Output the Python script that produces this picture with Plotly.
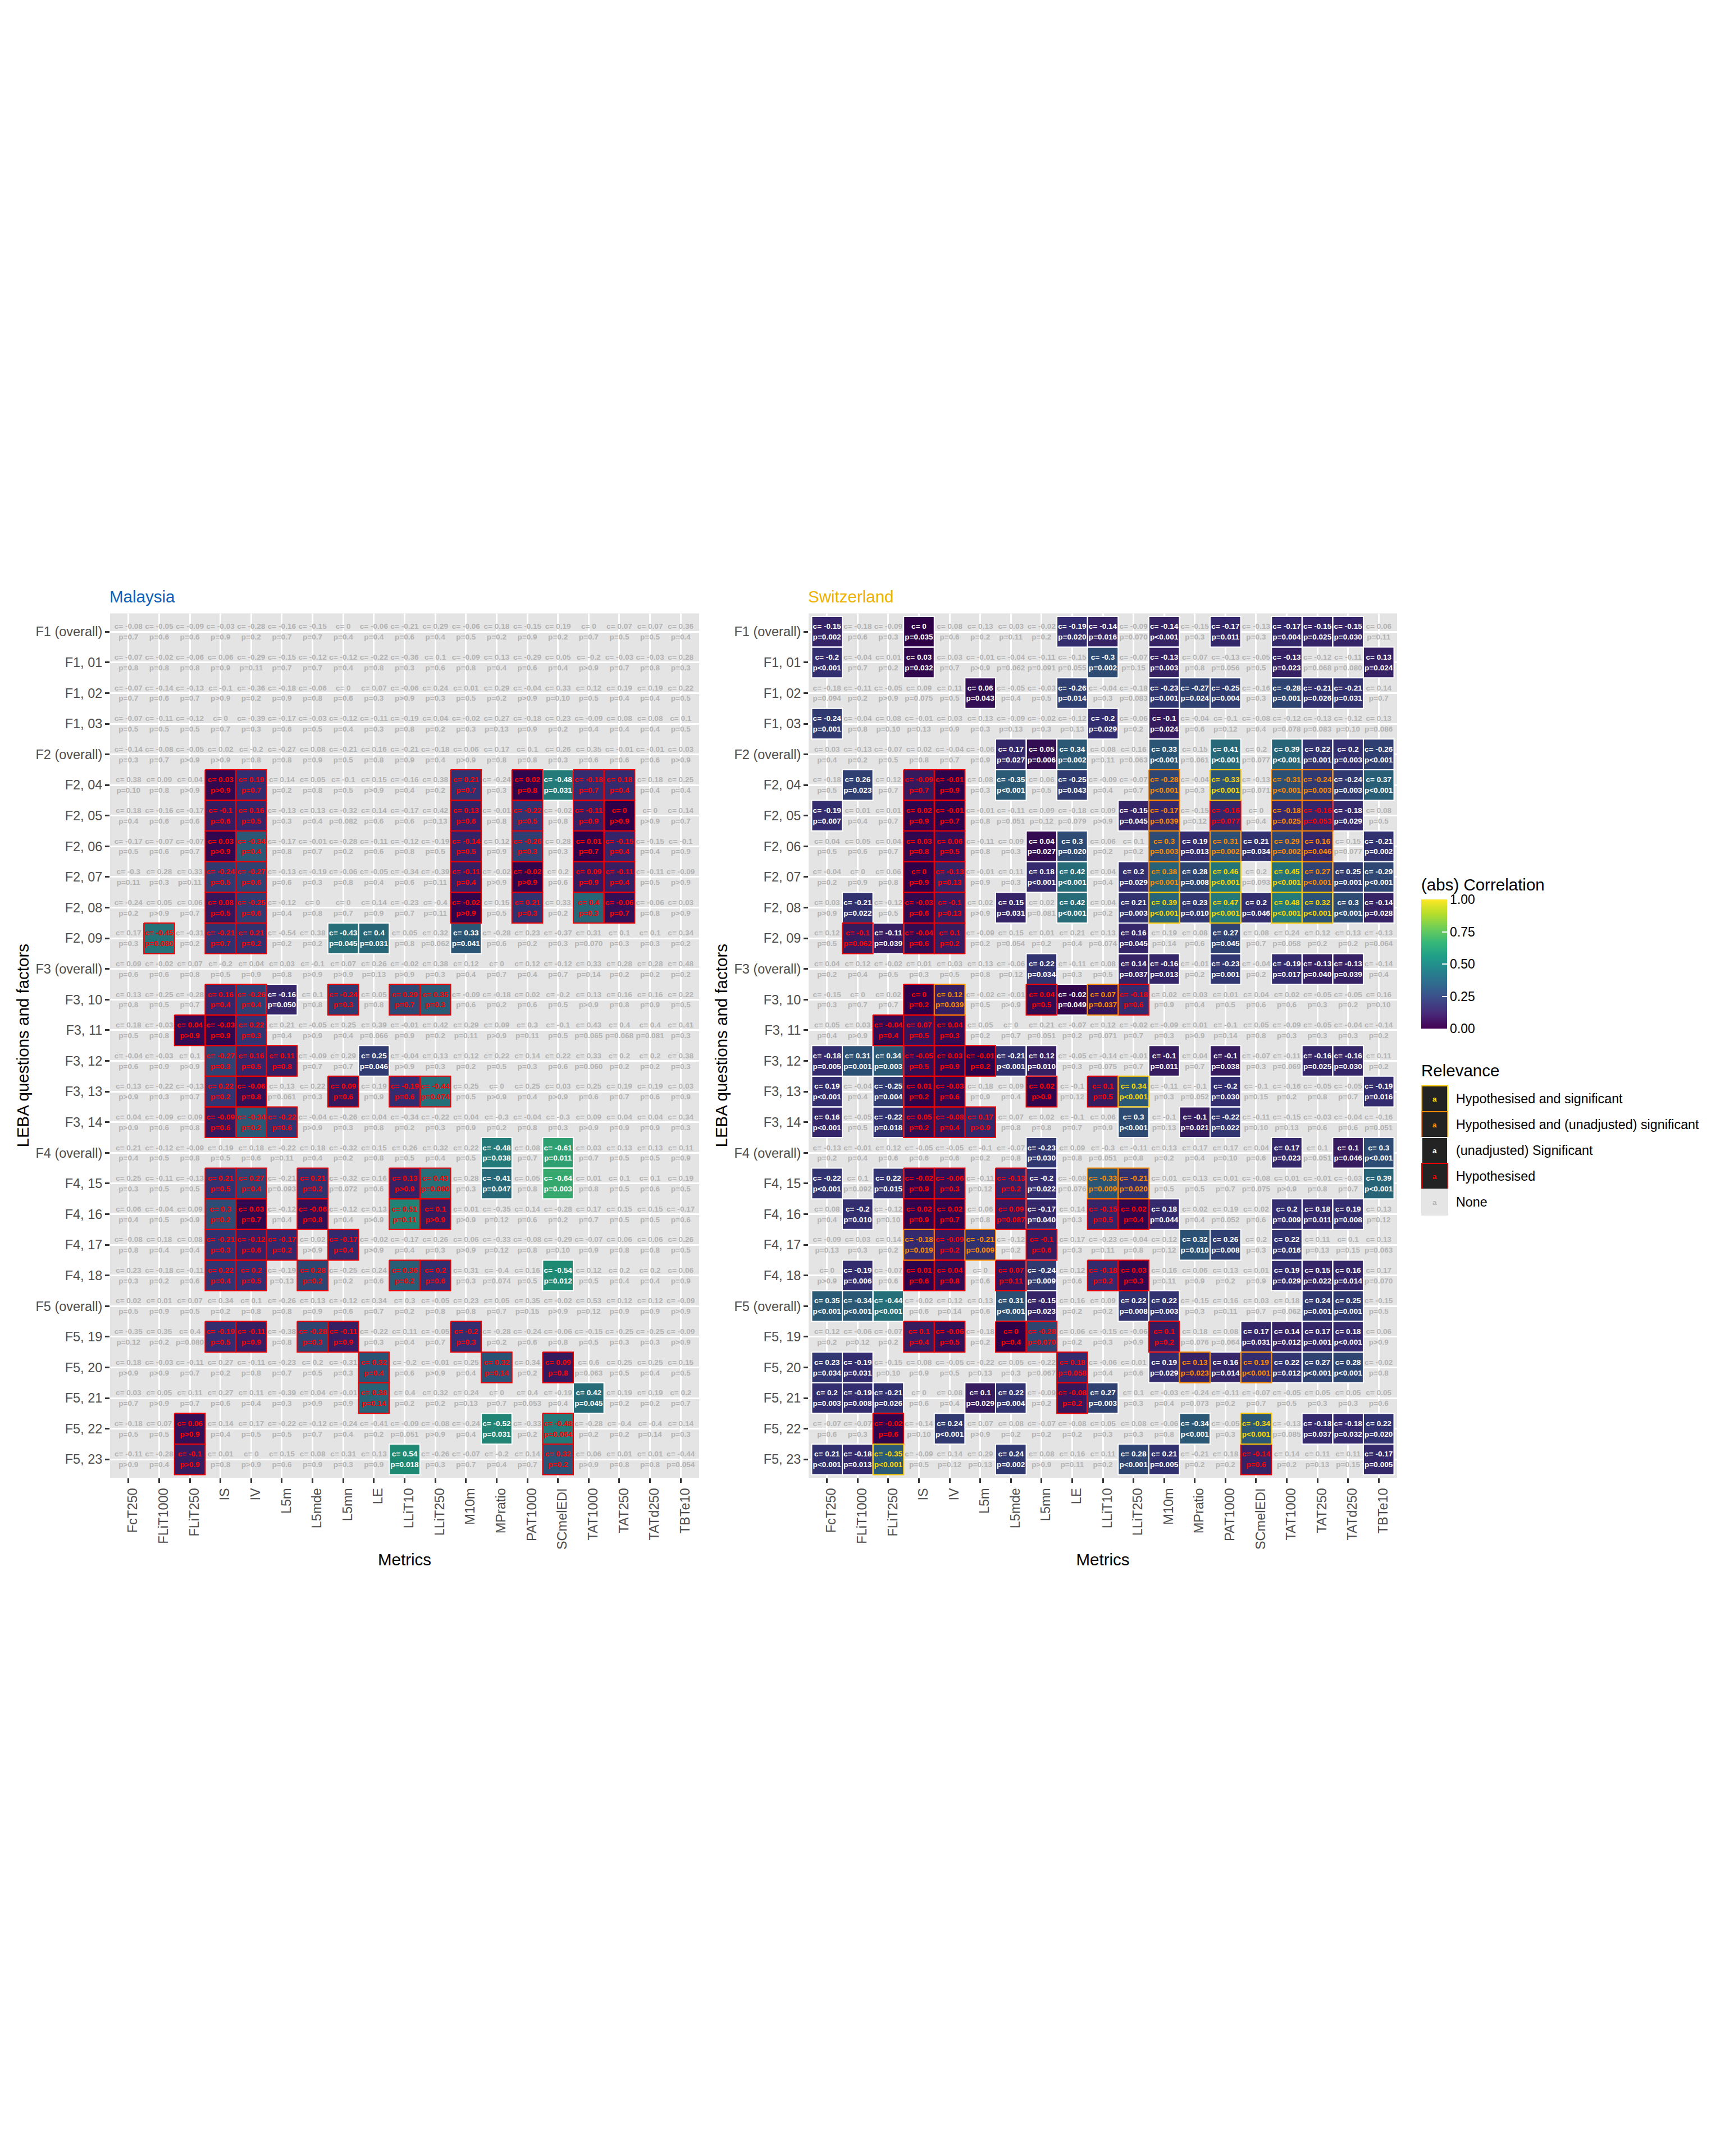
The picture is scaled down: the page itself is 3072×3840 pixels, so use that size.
import numpy as np
import plotly.graph_objects as go

METRICS = ["FcT250","FLiT1000","FLiT250","IS","IV","L5m","L5mde","L5mn","LE","LLiT10","LLiT250","M10m","MPratio","PAT1000","SCmelEDI","TAT1000","TAT250","TATd250","TBTe10"]
QUESTIONS = ["F1 (overall)","F1, 01","F1, 02","F1, 03","F2 (overall)","F2, 04","F2, 05","F2, 06","F2, 07","F2, 08","F2, 09","F3 (overall)","F3, 10","F3, 11","F3, 12","F3, 13","F3, 14","F4 (overall)","F4, 15","F4, 16","F4, 17","F4, 18","F5 (overall)","F5, 19","F5, 20","F5, 21","F5, 22","F5, 23"]

MY_C = [
[-0.08,-0.05,-0.09,-0.03,-0.28,-0.16,-0.15,0,-0.06,-0.21,0.29,-0.06,0.18,-0.15,0.19,0,0.07,0.07,0.36],
[-0.07,-0.02,-0.06,0.06,-0.29,-0.15,-0.12,-0.12,-0.22,-0.36,0.1,-0.09,0.13,-0.29,0.05,-0.2,-0.03,-0.03,0.28],
[-0.07,-0.14,-0.13,-0.1,-0.36,-0.18,-0.06,0,0.07,-0.06,0.24,0.01,0.29,-0.04,0.33,0.12,0.19,0.19,0.22],
[-0.07,-0.11,-0.12,0,-0.39,-0.17,-0.03,-0.12,-0.11,-0.19,0.04,-0.02,0.27,-0.18,0.23,-0.09,0.08,0.08,0.1],
[-0.14,-0.08,-0.05,0.02,-0.2,-0.27,0.08,-0.21,0.16,-0.21,-0.18,0.06,0.17,0.1,0.26,0.35,-0.01,-0.01,0.03],
[0.38,0.09,0.04,0.03,0.19,0.14,0.05,-0.1,0.15,-0.16,0.38,0.21,-0.24,0.02,-0.48,-0.18,0.18,0.18,0.25],
[0.18,-0.16,-0.17,-0.1,0.16,-0.13,0.13,-0.32,0.14,-0.17,0.42,0.13,-0.01,-0.22,-0.02,-0.11,0,0,0.14],
[-0.17,-0.07,-0.07,0.03,-0.34,-0.17,-0.01,-0.28,-0.11,-0.12,-0.19,-0.14,0.12,-0.26,0.28,0.01,-0.15,-0.15,-0.1],
[-0.3,0.28,0.33,-0.24,-0.27,-0.13,-0.19,-0.06,-0.05,-0.34,-0.39,-0.11,-0.02,-0.02,0.2,0.09,-0.11,-0.11,-0.09],
[-0.24,0.05,0.06,0.08,-0.25,-0.12,0,0,0.14,-0.23,-0.4,-0.02,0.15,0.21,0.33,0.4,-0.06,-0.06,0.03],
[0.17,-0.45,-0.31,-0.21,0.21,-0.54,0.38,-0.43,0.4,0.05,0.32,0.33,-0.28,0.23,-0.37,0.31,0.1,0.1,0.34],
[0.09,-0.02,0.07,-0.2,0.04,0.03,-0.1,0.07,0.26,-0.02,0.38,0.12,0,0.12,-0.12,0.33,0.28,0.28,0.48],
[0.13,-0.25,-0.28,0.16,-0.26,-0.16,0.1,-0.24,0.05,0.29,0.35,-0.09,-0.18,0.02,-0.2,0.13,0.16,0.16,0.22],
[0.18,-0.03,0.04,-0.03,0.22,0.21,-0.05,0.25,0.39,-0.01,0.42,0.29,0.09,0.3,-0.1,0.43,0.4,0.4,0.41],
[-0.04,-0.03,0.1,-0.27,0.16,0.11,-0.09,0.29,0.25,-0.04,0.13,0.12,0.22,0.14,0.22,0.33,0.2,0.2,0.38],
[0.13,-0.22,-0.13,0.22,-0.06,0.13,0.22,0.09,0.19,-0.19,-0.44,0.25,0,0.25,0.03,0.25,0.19,0.19,0.03],
[0.04,-0.09,0.09,-0.09,-0.34,-0.22,-0.04,-0.26,0.04,-0.34,-0.22,0.04,-0.3,-0.04,-0.3,0.09,0.04,0.04,0.34],
[0.21,-0.12,-0.09,0.19,0.18,-0.22,0.18,-0.32,0.15,0.26,0.32,0.22,-0.48,0.08,-0.61,0.03,0.13,0.13,0.11],
[0.25,-0.11,-0.13,0.21,0.27,-0.21,0.21,-0.32,0.16,0.13,0.43,0.28,-0.41,0.05,-0.64,0.01,0.1,0.1,0.19],
[0.06,-0.04,0.09,0.3,0.03,-0.12,-0.06,-0.12,0.13,0.51,0.1,0.01,-0.35,0.14,-0.28,0.17,0.15,0.15,-0.17],
[-0.08,0.18,0.08,-0.21,-0.12,-0.17,0.02,-0.17,-0.02,-0.17,0.26,0.06,-0.33,-0.08,-0.29,-0.07,0.06,0.06,0.26],
[0.23,-0.18,-0.11,0.22,0.2,-0.19,0.28,-0.25,0.24,0.36,0.2,0.31,-0.4,0.16,-0.54,0.12,0.2,0.2,0.06],
[0.02,0.01,0.07,0.34,0.1,-0.26,0.13,-0.12,0.34,0.3,-0.05,0.23,0.05,0.35,-0.02,0.53,0.12,0.12,-0.09],
[-0.35,0.35,0.4,-0.19,-0.11,-0.38,-0.28,-0.11,-0.22,0.11,-0.05,-0.2,-0.28,-0.24,-0.06,-0.15,-0.25,-0.25,-0.09],
[0.18,-0.03,-0.11,0.27,-0.11,-0.23,0.2,-0.31,0.32,-0.2,-0.01,0.25,0.32,0.34,0.09,0.6,0.25,0.25,0.15],
[0.03,0.05,0.11,0.27,0.11,-0.39,0.04,-0.01,0.38,0.4,0.32,0.24,0,0.4,-0.19,0.42,0.19,0.19,0.2],
[-0.18,0.07,0.06,0.14,0.17,-0.22,-0.12,-0.24,-0.41,-0.09,-0.08,-0.24,-0.52,-0.33,-0.48,-0.28,-0.4,-0.4,0.14],
[-0.11,-0.28,-0.1,0.01,0,0.15,0.08,0.31,0.13,0.54,-0.26,-0.07,-0.2,0.14,0.32,0.06,0.01,0.01,-0.44],
]
MY_P = [
"0.7 0.6 0.6 0.9 0.2 0.7 0.7 0.4 0.4 0.6 0.4 0.5 0.2 0.9 0.2 0.7 0.5 0.5 0.4",
"0.8 0.8 0.8 0.9 0.11 0.7 0.7 0.4 0.8 0.3 0.6 0.8 0.4 0.6 0.4 >0.9 0.7 0.8 0.3",
"0.7 0.6 0.7 >0.9 0.2 0.9 0.8 0.6 0.3 >0.9 0.3 0.5 0.2 >0.9 0.10 0.5 0.4 0.4 0.5",
"0.5 0.5 0.5 0.7 0.3 0.6 0.5 0.4 0.3 0.8 0.2 0.3 0.13 0.9 0.2 0.4 0.4 0.4 0.5",
"0.3 0.7 >0.9 >0.9 0.8 0.8 0.9 0.5 0.8 0.9 0.4 >0.9 0.8 0.8 0.3 0.6 0.6 0.6 >0.9",
"0.10 0.8 >0.9 >0.9 0.7 0.2 0.8 0.5 >0.9 0.4 0.2 0.7 0.3 0.8 0.031 0.7 0.4 0.4 0.4",
"0.4 0.6 0.6 0.6 0.5 0.3 0.4 0.082 0.6 0.6 0.13 0.6 0.8 0.5 0.8 0.9 >0.9 >0.9 0.7",
"0.5 0.6 0.7 >0.9 0.4 0.8 0.7 0.2 0.6 0.8 0.5 0.5 0.9 0.3 0.3 0.7 0.4 0.4 0.9",
"0.11 0.3 0.11 0.5 0.6 0.6 0.3 0.8 0.4 0.6 0.11 0.4 >0.9 >0.9 0.6 0.9 0.4 0.5 >0.9",
"0.2 >0.9 0.7 0.5 0.6 0.4 0.8 0.7 0.9 0.7 0.11 >0.9 0.5 0.3 0.2 0.3 0.7 0.8 >0.9",
"0.3 0.080 0.2 0.7 0.2 0.2 0.2 0.045 0.031 0.8 0.062 0.041 0.6 0.2 0.3 0.070 0.3 0.3 0.2",
"0.6 0.6 0.8 0.5 0.9 0.8 >0.9 >0.9 0.13 >0.9 0.3 0.4 0.7 0.4 0.7 0.14 0.2 0.2 0.2",
"0.8 0.5 0.7 0.4 0.4 0.050 0.8 0.3 0.8 0.7 0.3 0.6 0.2 0.6 0.5 >0.9 0.8 0.9 0.5",
"0.5 0.8 >0.9 0.9 0.3 0.4 >0.9 0.4 0.066 0.9 0.2 0.11 >0.9 0.11 0.5 0.065 0.068 0.081 0.3",
"0.6 0.9 >0.9 0.3 0.5 0.8 0.7 0.7 0.046 >0.9 0.3 0.2 0.5 0.3 0.6 0.060 0.2 0.2 0.3",
">0.9 0.3 0.7 0.2 0.8 0.061 0.3 0.6 0.9 0.6 0.074 0.5 >0.9 0.4 >0.9 0.6 0.7 0.6 0.9",
">0.9 0.6 0.8 0.6 0.2 0.6 >0.9 0.3 0.8 0.2 0.3 0.9 0.2 0.8 0.3 >0.9 0.9 0.9 0.3",
"0.4 0.5 0.8 0.5 0.6 0.11 0.4 0.2 0.8 0.5 0.4 0.5 0.038 0.7 0.011 0.7 0.5 0.5 0.9",
"0.3 0.5 0.5 0.5 0.4 0.093 0.2 0.072 0.6 >0.9 0.090 0.3 0.047 0.8 0.003 0.8 0.5 0.6 0.5",
"0.4 0.5 >0.9 0.2 0.7 0.4 0.8 0.4 >0.9 0.11 >0.9 >0.9 0.12 0.6 0.2 0.7 0.5 0.5 0.6",
"0.8 0.4 0.4 0.3 0.6 0.2 >0.9 0.4 >0.9 0.4 0.3 >0.9 0.12 0.8 0.10 0.9 0.8 0.8 0.5",
"0.3 0.2 0.6 0.4 0.5 0.13 0.2 0.2 0.6 0.2 0.6 0.3 0.074 0.5 0.012 0.5 0.4 0.4 0.9",
"0.5 0.9 0.5 0.2 0.8 0.8 0.9 0.6 0.7 0.2 0.8 0.8 0.7 0.15 >0.9 0.12 0.9 0.9 >0.9",
"0.12 0.2 0.080 0.5 0.9 0.8 0.3 0.9 0.3 0.4 0.7 0.3 0.2 0.6 0.8 0.5 0.3 0.3 >0.9",
">0.9 >0.9 0.7 0.2 0.8 0.7 0.5 0.3 0.4 0.6 >0.9 0.4 0.14 0.2 0.8 0.063 0.5 0.4 0.5",
"0.7 >0.9 0.7 0.6 0.4 0.3 >0.9 0.9 0.14 0.2 0.2 0.13 0.7 0.053 0.4 0.045 0.2 0.2 0.7",
"0.5 0.5 >0.9 0.4 0.5 0.5 0.7 0.4 0.2 0.051 >0.9 0.4 0.031 0.2 0.064 0.2 0.2 0.14 0.3",
">0.9 0.4 >0.9 0.8 >0.9 0.6 0.9 0.3 0.9 0.018 0.3 0.7 0.4 0.7 0.2 >0.9 0.8 0.8 0.054",
]
MY_REL = [
"...................","...................","...................","...................","...................",
"...HH......H.HSHH..","...HH......H.H.HH..","...HH......H.H.HH..","...HH......H.H.HH..","...HH......H.H.HH..",
".H.HH..SS..S.......","...................","...HHS.H.HH........","..HHH..............","...HHH..S..........",
"...HH..H.HH........","...HHH.............","............S.S....","...HH.H..HH.S.S....","...HH.H..HH........",
"...HHH.H...........","...HH.H..HH...S....","...................","...HH.HH...H.......","........H...H.H....",
"........H......S...","..H.........S.H....","..H......S....H....",
]

CH_C = [
[-0.15,-0.18,-0.09,0,0.08,0.13,0.03,-0.02,-0.19,-0.14,-0.09,-0.14,-0.15,-0.17,-0.13,-0.17,-0.15,-0.15,0.06],
[-0.2,-0.04,0.01,0.03,0.03,-0.01,-0.04,-0.11,-0.15,-0.3,-0.07,-0.13,0.07,-0.13,-0.05,-0.13,-0.12,-0.11,0.13],
[-0.18,-0.11,-0.05,0.09,0.11,0.06,-0.05,-0.03,-0.26,-0.04,-0.18,-0.23,-0.27,-0.25,-0.16,-0.28,-0.21,-0.21,0.14],
[-0.24,-0.04,0.08,-0.01,0.03,0.13,-0.09,-0.02,-0.12,-0.2,-0.06,-0.1,-0.04,-0.1,-0.08,-0.12,-0.13,-0.12,0.13],
[0.03,-0.13,-0.07,0.02,-0.04,-0.06,0.17,0.05,0.34,0.08,0.16,0.33,0.15,0.41,0.2,0.39,0.22,0.2,-0.26],
[-0.18,0.26,0.12,-0.09,-0.01,0.08,-0.35,0.06,-0.25,-0.09,-0.07,-0.28,-0.04,-0.33,-0.13,-0.31,-0.24,-0.24,0.37],
[-0.19,0.01,0.01,0.02,-0.01,-0.01,-0.11,0.09,-0.18,0.09,-0.15,-0.17,-0.15,-0.16,0,-0.18,-0.16,-0.18,0.08],
[0.04,0.05,0.04,0.03,0.06,-0.11,0.09,0.04,0.3,0.06,0.1,0.3,0.19,0.31,0.21,0.29,0.16,0.15,-0.21],
[-0.04,0,0.06,0,-0.13,-0.01,0.11,0.18,0.42,0.04,0.2,0.38,0.28,0.46,0.2,0.45,0.27,0.25,-0.29],
[0.03,-0.21,-0.12,-0.03,-0.1,0.02,0.15,0.02,0.42,0.04,0.21,0.39,0.23,0.47,0.2,0.48,0.32,0.3,-0.14],
[0.12,-0.1,-0.11,-0.04,0.1,-0.09,0.15,0.01,0.21,0.13,0.16,0.19,0.08,0.27,0.08,0.24,0.12,0.13,-0.13],
[0.04,0.12,-0.02,0.01,0.03,0.13,-0.06,0.22,-0.11,0.08,0.14,-0.16,-0.01,-0.23,-0.04,-0.19,-0.13,-0.13,-0.14],
[-0.15,0,0.02,0,0.12,-0.02,-0.01,0.04,-0.02,0.07,-0.18,0.02,0.03,0.01,0.04,0.02,-0.05,-0.05,0.16],
[0.05,0.03,-0.04,0.07,0.04,0.05,0,0.21,-0.07,0.12,-0.02,-0.09,0.01,-0.1,0.05,-0.09,-0.05,-0.04,-0.14],
[-0.18,0.31,0.34,-0.05,0.03,-0.01,-0.21,0.12,-0.05,-0.14,-0.01,-0.1,0.04,-0.1,-0.07,-0.11,-0.16,-0.16,0.11],
[0.19,-0.04,-0.25,0.01,-0.03,0.18,0.09,0.02,-0.1,0.1,0.34,-0.11,-0.1,-0.2,-0.1,-0.16,-0.05,-0.05,-0.19],
[0.16,-0.05,-0.22,0.05,-0.08,0.17,0.07,0.02,-0.1,0.06,0.3,-0.1,-0.1,-0.22,-0.11,-0.15,-0.03,-0.04,-0.16],
[-0.13,-0.01,0.12,-0.05,-0.05,-0.1,-0.07,-0.23,0.09,-0.3,-0.11,0.13,0.17,0.17,0.04,0.17,0.1,0.1,0.3],
[-0.22,0.1,0.22,-0.02,-0.06,-0.11,-0.13,-0.2,-0.08,-0.33,-0.21,0.01,0.13,0.01,-0.08,0.01,-0.01,-0.03,0.39],
[0.08,-0.2,-0.12,0.02,0.02,0.06,0.09,-0.17,0.14,-0.15,0.02,0.18,0.02,0.19,0.02,0.2,0.18,0.19,0.13],
[-0.09,0.03,0.14,-0.18,-0.09,-0.21,-0.12,-0.1,0.17,-0.23,-0.04,0.12,0.32,0.26,0.2,0.22,0.11,0.1,0.13],
[0,-0.19,-0.07,0.01,0.04,0,0.07,-0.24,0.12,-0.18,0.03,0.16,0.06,0.13,0.01,0.19,0.15,0.16,0.17],
[0.35,-0.34,-0.44,-0.02,0.12,0.13,0.31,-0.15,0.16,0.09,0.22,0.22,-0.15,0.16,0.03,0.18,0.24,0.25,-0.15],
[0.12,-0.06,-0.07,0.1,-0.06,-0.18,0,-0.28,0.06,-0.15,-0.06,0.1,0.18,0.08,0.17,0.14,0.17,0.18,0.06],
[0.23,-0.19,-0.15,0.08,-0.05,-0.22,0.05,-0.22,0.18,-0.06,0.01,0.19,0.13,0.16,0.19,0.22,0.27,0.28,-0.02],
[0.2,-0.19,-0.21,0,0.08,0.1,0.22,-0.09,-0.08,0.27,0.1,-0.03,-0.24,-0.11,-0.07,-0.05,0.05,0.05,0.05],
[-0.07,-0.07,-0.02,-0.14,0.24,0.07,0.08,-0.07,-0.08,0.05,0.08,-0.06,-0.34,-0.05,-0.34,-0.13,-0.18,-0.18,0.22],
[0.21,-0.18,-0.35,-0.09,0.14,0.29,0.24,0.08,0.16,0.11,0.28,0.21,-0.21,0.18,-0.14,0.14,0.11,0.11,-0.17],
]
CH_P = [
"0.002 0.6 0.3 0.035 0.6 0.2 0.11 0.2 0.020 0.016 0.070 <0.001 0.3 0.011 0.3 0.004 0.025 0.030 0.11",
"<0.001 0.7 0.2 0.032 0.7 >0.9 0.062 0.091 0.055 0.002 0.15 0.003 0.8 0.056 0.5 0.023 0.068 0.080 0.024",
"0.094 0.2 >0.9 0.075 0.5 0.043 0.4 0.5 0.014 0.3 0.083 0.001 0.024 0.004 0.3 0.001 0.026 0.031 0.7",
"0.001 0.8 0.10 0.13 0.9 0.3 0.13 0.3 0.13 0.029 0.2 0.024 0.6 0.12 0.4 0.078 0.083 0.10 0.086",
"0.4 0.2 0.5 0.8 0.7 0.9 0.027 0.006 0.002 0.11 0.063 <0.001 0.061 <0.001 0.077 <0.001 0.001 0.003 <0.001",
"0.5 0.023 0.7 0.7 0.9 0.3 <0.001 0.5 0.043 0.4 0.7 <0.001 0.3 <0.001 0.071 <0.001 0.003 0.003 <0.001",
"0.007 0.4 0.7 0.9 0.7 0.8 0.051 0.12 0.079 >0.9 0.045 0.039 0.12 0.077 0.4 0.025 0.053 0.029 0.5",
"0.5 0.6 0.7 0.8 0.5 0.8 0.3 0.027 0.020 0.2 0.2 0.003 0.013 0.002 0.034 0.002 0.046 0.077 0.002",
"0.2 0.9 0.8 0.9 0.13 0.9 0.3 <0.001 <0.001 0.4 0.029 <0.001 0.008 <0.001 0.093 <0.001 <0.001 0.001 <0.001",
">0.9 0.022 0.5 0.6 0.13 >0.9 0.031 0.081 <0.001 0.2 0.003 <0.001 0.010 <0.001 0.046 <0.001 <0.001 <0.001 0.028",
"0.5 0.062 0.039 0.6 0.2 0.2 0.054 0.2 0.4 0.074 0.045 0.14 0.6 0.045 0.7 0.058 0.2 0.2 0.064",
"0.2 0.4 0.5 0.3 0.5 0.8 0.12 0.034 0.3 0.5 0.037 0.013 0.2 0.001 0.2 0.017 0.040 0.039 0.4",
"0.3 0.7 0.7 0.2 0.039 0.5 >0.9 0.5 0.049 0.037 0.6 0.9 0.4 0.5 0.6 0.6 0.3 0.2 0.10",
"0.4 >0.9 0.4 0.5 0.3 0.2 0.7 0.051 0.2 0.071 0.7 0.3 >0.9 0.14 0.8 0.3 0.3 0.3 0.2",
"0.005 0.001 0.003 0.5 0.9 0.2 <0.001 0.010 0.3 0.075 0.7 0.011 0.7 0.038 0.3 0.069 0.025 0.030 0.2",
"<0.001 0.4 0.004 0.2 0.6 0.9 0.4 >0.9 0.12 0.5 <0.001 0.3 0.052 0.030 0.15 0.2 0.8 0.7 0.016",
"<0.001 0.5 0.018 0.2 0.4 >0.9 0.8 0.8 0.7 0.9 <0.001 0.13 0.021 0.022 0.10 0.13 0.6 0.6 0.051",
"0.2 0.4 0.6 0.6 0.6 0.2 0.8 0.030 0.8 0.051 0.8 0.2 0.4 0.10 0.6 0.023 0.051 0.046 <0.001",
"<0.001 0.092 0.015 0.9 0.3 0.12 0.2 0.022 0.076 0.009 0.020 0.5 0.5 0.7 0.075 >0.9 0.8 0.7 <0.001",
"0.4 0.010 0.10 0.9 0.7 0.8 0.087 0.040 0.3 0.5 0.4 0.044 0.4 0.052 0.6 0.009 0.011 0.008 0.12",
"0.13 0.3 0.2 0.019 0.2 0.009 0.2 0.6 0.3 0.11 0.8 0.12 0.010 0.008 0.3 0.016 0.13 0.15 0.063",
">0.9 0.006 0.6 0.6 0.8 0.6 0.11 0.009 0.6 0.2 0.3 0.11 0.9 0.2 0.9 0.029 0.022 0.014 0.070",
"<0.001 <0.001 <0.001 0.6 0.14 0.6 <0.001 0.023 0.2 0.2 0.008 0.003 0.3 0.11 0.7 0.062 0.001 0.001 0.5",
"0.2 0.12 0.2 0.4 0.5 0.2 0.4 0.070 0.2 0.3 >0.9 0.2 0.076 0.064 0.031 0.012 0.001 <0.001 >0.9",
"0.034 0.031 0.10 0.9 0.5 0.13 0.3 0.067 0.058 0.4 0.6 0.029 0.023 0.014 <0.001 0.012 <0.001 <0.001 0.8",
"0.003 0.008 0.026 0.6 0.4 0.029 0.004 0.2 0.2 0.003 0.3 0.4 0.073 0.2 0.7 0.5 0.3 0.3 0.6",
"0.6 0.3 0.6 0.10 <0.001 >0.9 0.2 0.2 0.2 0.3 0.3 0.8 <0.001 0.3 <0.001 0.085 0.037 0.032 0.020",
"<0.001 0.013 <0.001 0.5 0.12 0.13 0.002 >0.9 0.11 0.2 <0.001 0.005 0.2 0.2 0.6 0.2 0.13 0.15 0.005",
]
CH_REL = [
"S..S....SS.S.S.SSS.","S..S.....S.S...S..S",".....S..S..SSS.SSS.","S........S.S.......","......SSS..S.S.SSSS",
".S.HH.S.S..U.B.UUSS","S..HH.....SU.H.UHS.","...HH..SS..USUSUU.S","...HH..SS.SUSB.BUSS",".S.HH.S.S.SBSBSBBSS",
".HSHH.....S..S.....",".......S..SS.S.SSS.","...HU..HSUH........","..HHH..............","SSSHHHSS...S.S..SS.",
"S.SHH..H.HB..S....S","S.SHHH....S.SS.....",".......S.......S.SS","S.SHH.HS.UU.......S",".S.HH.HS.HHS...SSS.",
"...UHU.H....SS.S...",".S.HH.HS.HH....SSS.","SSS...SS..SS....SS.","...HH.HH...H..SSSS.","SS......H..SUSUSSS.",
"SSS..SS.HS.........","..H.S.......S.B.SSS","SSB...S...SS..H...S",
]

REL_ORDER = ["S", "H", "U", "B"]
REL_BORDER = {"S": "#FFFFFF", "H": "#F00000", "U": "#FF8C00", "B": "#FFC800"}
REL_TEXT = {".": "#B3B3B3", "S": "#FFFFFF", "H": "#FF0000", "U": "#FF8C00", "B": "#FFD800"}
LEGEND_LABELS = [("B", "Hypothesised and significant"), ("U", "Hypothesised and (unadjusted) significant"),
                 ("S", "(unadjusted) Significant"), ("H", "Hypothesised"), (".", "None")]
BAR_TICKS = [0, 0.25, 0.5, 0.75, 1]
BAR_LABELS = ["0.00", "0.25", "0.50", "0.75", "1.00"]
TILE_SCALE = [[0, "#2E0047"], [0.1, "#371B5F"], [0.2, "#332E70"], [0.27, "#2F4272"], [0.34, "#2A5875"],
              [0.42, "#266B78"], [0.48, "#237A78"], [0.54, "#1F8A74"], [0.64, "#35A86E"], [0.75, "#55B858"], [1, "#E8D422"]]

W, H = 3072, 3840
FONT = "Liberation Sans"
px = lambda v: v / W
py = lambda v: 1 - v / H
TILE_FONT = 13.6
LINE_C, LINE_P = -0.15, 0.195
fig = go.Figure()
n_col, n_row = len(METRICS), len(QUESTIONS)
xs = np.arange(n_col)
ys = np.arange(n_row)


def add_panel(c_rows, p_rows, rel_rows, xa, ya):
    c = np.array(c_rows, float)
    rel = np.array([list(r) for r in rel_rows])
    z = np.where(rel == ".", np.nan, np.abs(c))
    fig.add_trace(go.Heatmap(x=xs, y=ys, z=z, zmin=0, zmax=1, colorscale=TILE_SCALE, showscale=False,
                             hoverinfo="skip", xaxis=xa, yaxis=ya))
    for key in REL_ORDER:
        lx, ly = [], []
        for i, j in zip(*np.where(rel == key)):
            lx += [j - .5, j + .5, j + .5, j - .5, j - .5, None]
            ly += [i - .5, i - .5, i + .5, i + .5, i - .5, None]
        if lx:
            fig.add_trace(go.Scatter(x=lx, y=ly, mode="lines", line=dict(color=REL_BORDER[key], width=2),
                                     hoverinfo="skip", showlegend=False, xaxis=xa, yaxis=ya))
    for key, color in REL_TEXT.items():
        tx, cy, py_, ct, pt = [], [], [], [], []
        for i, j in zip(*np.where(rel == key)):
            p = p_rows[i].split()[j]
            tx.append(int(j))
            cy.append(i + LINE_C)
            py_.append(i + LINE_P)
            ct.append(f"c= {c[i, j]:g}")
            pt.append(f"p{'' if p[0] in '<>' else '='}{p}")
        for yy, tt in ((cy, ct), (py_, pt)):
            if tx:
                fig.add_trace(go.Scatter(x=tx, y=yy, text=tt, mode="text", textposition="middle center",
                                         textfont=dict(family=FONT, size=TILE_FONT, color=color, weight="bold"),
                                         hoverinfo="skip", showlegend=False, xaxis=xa, yaxis=ya))


add_panel(MY_C, MY_P, MY_REL, "x", "y")
add_panel(CH_C, CH_P, CH_REL, "x2", "y2")

fig.add_trace(go.Scatter(x=[0], y=[0], mode="markers", hoverinfo="skip", showlegend=False,
    marker=dict(size=1, opacity=0, color=[0], cmin=0, cmax=1, colorscale="Viridis", showscale=True,
        colorbar=dict(x=px(2531), xanchor="left", y=py(1717), yanchor="middle", xpad=0, ypad=0,
                      thickness=46, thicknessmode="pixels", len=230, lenmode="pixels", outlinewidth=0,
                      tickvals=BAR_TICKS, ticktext=BAR_LABELS, ticks="inside", ticklen=9, tickwidth=2,
                      tickprefix="\u00a0\u00a0", tickcolor="white", tickfont=dict(family=FONT, size=23, color="black")))))


def axes(left, right, num):
    tick = dict(ticks="outside", ticklen=8, tickwidth=3, tickcolor="#333333", showgrid=True, gridcolor="white",
                gridwidth=3, zeroline=False, showline=False, tickfont=dict(family=FONT, size=23.5, color="#4D4D4D"))
    xa = dict(domain=[px(left), px(right)], range=[-0.6, n_col - 0.4], tickmode="array", tickvals=list(xs),
              ticktext=METRICS, tickangle=-90, ticklabelshift=8,
              title=dict(text="Metrics", standoff=8, font=dict(family=FONT, size=29.5, color="black")),
              anchor="y" + num, **tick)
    ya = dict(domain=[py(2632), py(1092.5)], range=[n_row - 0.4, -0.6], tickmode="array", tickvals=list(ys),
              ticktext=QUESTIONS, title=dict(text="LEBA questions and factors", standoff=3,
                                             font=dict(family=FONT, size=29.5, color="black")),
              anchor="x" + num, **tick)
    return xa, ya


xa1, ya1 = axes(196, 1245, "")
xa2, ya2 = axes(1440, 2488, "2")

ann = [
    dict(text="Malaysia", x=px(193), y=py(1062), font=dict(size=29.5, color="#0B5FB8")),
    dict(text="Switzerland", x=px(1437), y=py(1062), font=dict(size=29.5, color="#EDB100")),
    dict(text="(abs) Correlation", x=px(2529), y=py(1575), font=dict(size=29.5, color="black")),
    dict(text="Relevance", x=px(2529), y=py(1906), font=dict(size=29.5, color="black")),
]
shapes = []
KEY_TOP, KEY_H = 1934, 46
for k, (key, label) in enumerate(LEGEND_LABELS):
    top = KEY_TOP + k * KEY_H
    none = key == "."
    shapes.append(dict(type="rect", xref="paper", yref="paper", x0=px(2532), x1=px(2578), y0=py(top), y1=py(top + KEY_H),
                       fillcolor="#E5E5E5" if none else "#232323",
                       line=dict(color="#E5E5E5" if none else REL_BORDER[key], width=2)))
    ann.append(dict(text="a", x=px(2555), y=py(top + 23), xanchor="center",
                    font=dict(size=TILE_FONT, color=REL_TEXT[key], weight="bold")))
    ann.append(dict(text=label, x=px(2591), y=py(top + 23), font=dict(size=23.3, color="black")))
for a in ann:
    a.update(xref="paper", yref="paper", showarrow=False, yanchor="middle")
    a.setdefault("xanchor", "left")
    a["font"]["family"] = FONT

fig.update_layout(width=W, height=H, autosize=False, margin=dict(l=0, r=0, t=0, b=0), paper_bgcolor="white",
                  plot_bgcolor="#E4E4E4", font=dict(family=FONT), showlegend=False, hovermode=False,
                  xaxis=xa1, yaxis=ya1, xaxis2=xa2, yaxis2=ya2, annotations=ann, shapes=shapes)

fig.write_html("out.html", config={"displayModeBar": False},
               post_script="document.body.style.margin='0';document.body.style.overflow='hidden';")
